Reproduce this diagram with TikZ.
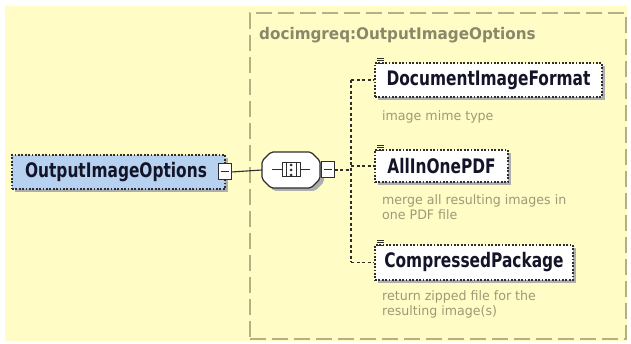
\documentclass[tikz,border=0pt]{standalone}
\usepackage{fontspec}
\usepackage{graphicx}
\setmainfont{DejaVu Sans}
\usetikzlibrary{shadows}
\definecolor{bgy}{HTML}{FFFCC6}
\definecolor{grpC}{HTML}{B5AF84}
\definecolor{titleC}{HTML}{8A886A}
\definecolor{descC}{HTML}{9E9A74}
\definecolor{lineC}{HTML}{2E2E2E}
\definecolor{blueC}{HTML}{B7D2F0}
\definecolor{shadowC}{HTML}{AEAEAE}
\definecolor{nameC}{HTML}{141428}
\newcommand{\ename}[1]{\scalebox{0.77}[1]{\fontsize{20}{23}\selectfont\bfseries #1}}
\newcommand{\edesc}[1]{\scalebox{0.97}[1]{\fontsize{13}{15}\selectfont\begin{tabular}{@{}l@{}}#1\end{tabular}}}
\tikzset{
  shd/.style={drop shadow={shadow xshift=3pt, shadow yshift=-3pt, fill=shadowC, opacity=1}},
  elem/.style={draw=lineC, line width=1.2pt, dash pattern=on 1.8pt off 1.6pt, fill=white, inner sep=0pt, shd, text=nameC},
  minusbox/.style={draw=lineC, line width=1pt, fill=white, minimum width=13pt, minimum height=16pt, inner sep=0pt},
  conn/.style={draw=lineC, line width=1.1pt},
  dconn/.style={draw=lineC, line width=1.1pt, dash pattern=on 3pt off 2.5pt},
  desc/.style={anchor=west, inner sep=0pt, text=descC},
}
\begin{document}
\begin{tikzpicture}[x=1pt,y=-1pt]
\useasboundingbox (0,0) rectangle (631,344);
\fill[white] (0,0) rectangle (631,344);
\fill[bgy] (5,6) rectangle (627,341);
% group container
\node[draw=grpC, line width=2pt, dash pattern=on 16pt off 6pt, minimum width=376pt, minimum height=326pt, inner sep=0pt] (grp) at (438,176) {};
\node[anchor=west, inner sep=0pt, text=titleC] (title) at (259,35) {\scalebox{0.95}[1]{\fontsize{16}{18}\selectfont\bfseries docimgreq:OutputImageOptions}};
% main element
\node[elem, fill=blueC, minimum width=213pt, minimum height=34pt] (main) at (118.5,172) {\ename{OutputImageOptions}\hspace*{5pt}};
\node[minusbox] (mmin) at (224.5,172) {};
\draw[lineC, line width=1pt] (mmin.center) ++(-4,0) -- ++(8,0);
% sequence compositor
\node[minimum width=58pt, minimum height=36pt, inner sep=0pt] (seq) at (291,170) {};
\fill[shadowC, rounded corners=2pt] (265,156) -- (274,156) -- (315,156) -- (324,165) -- (324,182) -- (315,191) -- (274,191) -- (265,182) -- cycle;
\draw[lineC, line width=1.2pt, fill=white, rounded corners=2pt] (262,161) -- (271,152) -- (311,152) -- (320,161) -- (320,179) -- (311,188) -- (271,188) -- (262,179) -- cycle;
\draw[lineC, line width=1pt] (272,170) -- (310,170);
\draw[lineC, line width=1pt, fill=white] (282,163) rectangle (300,177);
\draw[lineC, line width=1pt] (286,163) -- (286,177) (296,163) -- (296,177);
\fill[lineC] (291,165) circle (1.5) (291,170) circle (1.5) (291,175) circle (1.5);
\node[minusbox] (smin) at (327.5,170) {};
\draw[lineC, line width=1pt] (smin.center) ++(-4,0) -- ++(8,0);
\draw[conn] (mmin.east) -- (seq.west);
% children
\node[elem, minimum width=227pt, minimum height=34pt] (dif) at (488.5,80) {\ename{DocumentImageFormat}};
\node[elem, minimum width=133pt, minimum height=32pt] (aio) at (441.5,166) {\ename{AllInOnePDF}};
\node[elem, minimum width=198pt, minimum height=35pt] (cmp) at (474,262.5) {\ename{CompressedPackage}};
% small element icons
\foreach \n in {dif,aio,cmp}{
  \draw[lineC, line width=0.8pt] (\n.north west) ++(3,-4) -- ++(7,0) ++(-7,2.5) -- ++(7,0) ++(-7,2.5) -- ++(7,0);
}
% connectors
\coordinate (t1) at (351,80);
\coordinate (t2) at (351,166);
\coordinate (t3) at (351,262.5);
\coordinate (tm) at (351,170);
\draw[dconn] (smin.east) -- (tm);
\draw[dconn] (t1) -- (t3);
\draw[dconn] (t1) -- (dif.west);
\draw[dconn] (t2) -- (aio.west);
\draw[dconn] (t3) -- (cmp.west);
% descriptions
\node[desc] (d1) at (382,118) {\edesc{image mime type}};
\node[desc] (d2) at (382,209) {\edesc{merge all resulting images in\\one PDF file}};
\node[desc] (d3) at (382,305) {\edesc{return zipped file for the\\resulting image(s)}};
\end{tikzpicture}
\end{document}
